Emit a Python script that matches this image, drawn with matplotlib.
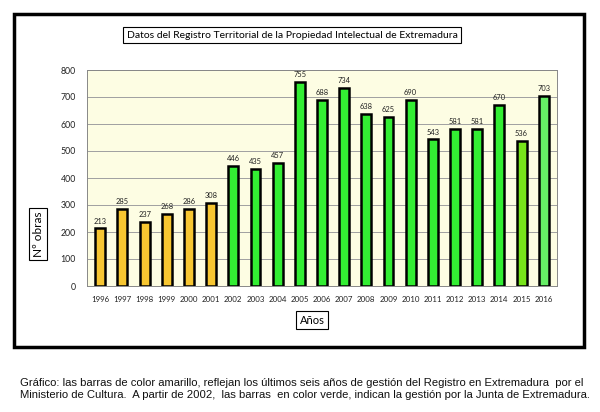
import matplotlib.pyplot as plt
from matplotlib.patches import Rectangle

# data
years = ['1996', '1997', '1998', '1999', '2000', '2001', '2002', '2003', '2004',
         '2005', '2006', '2007', '2008', '2009', '2010', '2011', '2012', '2013',
         '2014', '2015', '2016']
obras = [213, 285, 237, 268, 286, 308, 446, 435, 457, 755, 688, 734, 638, 625,
         690, 543, 581, 581, 670, 536, 703]
yellow = '#f7c631'
green = '#33ee33'
colors = [yellow] * 6 + [green] * 13 + ['#77e41a', '#66ee66']

W, H = 600, 412
fig = plt.figure(figsize=(W / 100, H / 100), dpi=100)
chart_font = 'Lato'


def px(x0, y0, x1, y1):
    # pixel box -> figure fraction rect
    return [x0 / W, 1 - y1 / H, (x1 - x0) / W, (y1 - y0) / H]


# outer frame
fig.patches.append(Rectangle((14 / W, 1 - 347 / H), 570 / W, 333 / H,
                             transform=fig.transFigure, fill=False,
                             edgecolor='black', linewidth=2.5))

ax = fig.add_axes(px(87, 70, 557, 286))
ax.set_facecolor('#fdfde3')
x = range(len(years))
ax.bar(x, obras, width=0.45, color=colors, edgecolor='black', linewidth=1.8,
       zorder=3)
for xi, v in zip(x, obras):
    ax.text(xi, v + 14, str(v), ha='center', va='bottom', fontsize=5.4,
            family=chart_font, color='#222222')

ax.set_ylim(0, 800)
ax.set_xlim(-0.6, len(years) - 0.4)
ax.set_yticks(range(0, 801, 100))
ax.set_xticks(list(x))
ax.set_xticklabels(years)
ax.tick_params(axis='both', length=0, labelsize=5.7, colors='#222222')
ax.tick_params(axis='y', pad=8, labelsize=6.3)
ax.tick_params(axis='x', pad=7)
for lbl in ax.get_xticklabels() + ax.get_yticklabels():
    lbl.set_family(chart_font)
ax.yaxis.grid(True, color='#a0a0a0', linewidth=0.7, zorder=0)
for s in ax.spines.values():
    s.set_color('#888888')
    s.set_linewidth(0.7)

box = dict(boxstyle='square,pad=0.3', facecolor='white', edgecolor='black',
           linewidth=0.8)
fig.text(292 / W, 1 - 35 / H,
         'Datos del Registro Territorial de la Propiedad Intelectual de Extremadura',
         ha='center', va='center', fontsize=7.5, family=chart_font, bbox=box)
fig.text(38 / W, 1 - 234 / H, 'Nº obras', ha='center', va='center',
         rotation=90, fontsize=8.5, family=chart_font, bbox=box)
fig.text(312 / W, 1 - 320 / H, 'Años', ha='center', va='center',
         fontsize=8, family=chart_font, bbox=box)

caption = ('Gráfico: las barras de color amarillo, reflejan los últimos seis años de gestión del Registro en Extremadura  por el\n'
           'Ministerio de Cultura.  A partir de 2002,  las barras  en color verde, indican la gestión por la Junta de Extremadura.')
fig.text(20 / W, 1 - 378 / H, caption, ha='left', va='top', fontsize=8.1,
         family='Liberation Sans', linespacing=1.3, color='#111111')

fig.savefig('out.png', dpi=100)
